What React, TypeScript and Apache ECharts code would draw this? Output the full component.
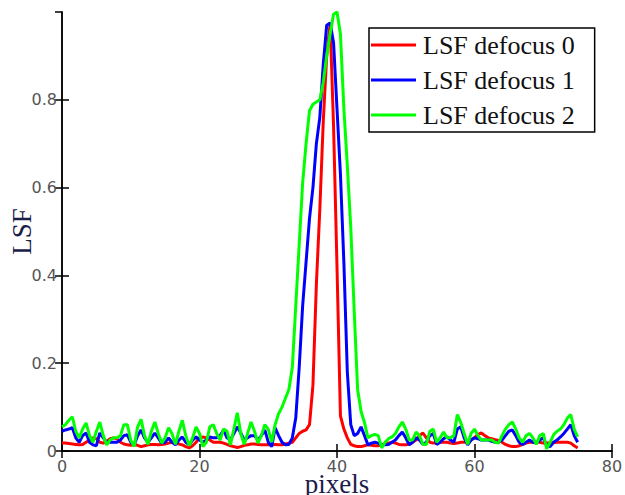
import React, { useEffect, useRef } from "react";
import * as echarts from "echarts";

const SERIES_NAMES = ["LSF defocus 0", "LSF defocus 1", "LSF defocus 2"];
const X_TICKS = [0, 20, 40, 60, 80];
const Y_TICKS = [0, 0.2, 0.4, 0.6, 0.8];
const X_STEP = 0.5;

const lsf0 = [
  0.018, 0.018, 0.017, 0.016, 0.015, 0.014, 0.015, 0.02, 0.025, 0.03,
  0.028, 0.02, 0.018, 0.022, 0.028, 0.03, 0.028, 0.02, 0.016, 0.014,
  0.013, 0.014, 0.013, 0.01, 0.012, 0.014, 0.015, 0.015, 0.014, 0.015,
  0.016, 0.018, 0.02, 0.018, 0.016, 0.014, 0.01, 0.007, 0.012, 0.02,
  0.03, 0.032, 0.03, 0.025, 0.02, 0.02, 0.02, 0.018, 0.015, 0.012,
  0.01, 0.008, 0.01, 0.013, 0.014, 0.016, 0.016, 0.015, 0.014, 0.014,
  0.014, 0.015, 0.015, 0.014, 0.014, 0.016, 0.018, 0.02, 0.03, 0.04,
  0.045, 0.048, 0.06, 0.15, 0.38, 0.55, 0.75, 0.9, 0.975, 0.74,
  0.42, 0.08, 0.05, 0.03, 0.015, 0.012, 0.01, 0.01, 0.012, 0.014,
  0.013, 0.012, 0.012, 0.014, 0.017, 0.018, 0.02, 0.018, 0.015, 0.014,
  0.014, 0.016, 0.02, 0.025, 0.035, 0.041, 0.03, 0.02, 0.018, 0.018,
  0.02, 0.02, 0.02, 0.018, 0.017, 0.018, 0.02, 0.02, 0.022, 0.025,
  0.03, 0.038, 0.041, 0.035, 0.03, 0.028, 0.026, 0.024, 0.02, 0.015,
  0.012, 0.01, 0.01, 0.012, 0.015, 0.018, 0.02, 0.02, 0.02, 0.02,
  0.018, 0.018, 0.018, 0.019, 0.02, 0.02, 0.02, 0.02, 0.018, 0.012,
  0.007,
];

const lsf1 = [
  0.045, 0.048, 0.05, 0.053, 0.03, 0.02, 0.035, 0.041, 0.02, 0.014,
  0.012, 0.041, 0.03, 0.02, 0.02, 0.02, 0.02, 0.025, 0.035, 0.037,
  0.02, 0.014, 0.035, 0.048, 0.03, 0.02, 0.03, 0.041, 0.03, 0.018,
  0.02, 0.03, 0.02, 0.014, 0.025, 0.032, 0.02, 0.014, 0.025, 0.032,
  0.025, 0.02, 0.025, 0.032, 0.03, 0.03, 0.035, 0.048, 0.03, 0.025,
  0.04, 0.055, 0.041, 0.025, 0.03, 0.035, 0.035, 0.025, 0.035, 0.048,
  0.02, 0.01, 0.053, 0.035, 0.02, 0.014, 0.015, 0.03, 0.075, 0.19,
  0.33, 0.43, 0.53, 0.6, 0.7, 0.76, 0.88, 0.97, 0.975, 0.93,
  0.78, 0.63, 0.43, 0.18, 0.06, 0.035, 0.04, 0.055, 0.035, 0.014,
  0.018, 0.02, 0.018, 0.014, 0.014, 0.015, 0.02, 0.025, 0.035, 0.043,
  0.03, 0.014, 0.02, 0.03, 0.025, 0.015, 0.02, 0.035, 0.04, 0.015,
  0.02, 0.028, 0.032, 0.025, 0.02, 0.05, 0.055, 0.03, 0.014, 0.025,
  0.03, 0.028, 0.025, 0.025, 0.025, 0.022, 0.02, 0.02, 0.025, 0.035,
  0.045, 0.048, 0.035, 0.02, 0.015, 0.02, 0.025, 0.02, 0.018, 0.025,
  0.03, 0.012, 0.01, 0.02, 0.025, 0.032, 0.04, 0.05, 0.06, 0.035,
  0.02,
];

const lsf2 = [
  0.055, 0.06, 0.07, 0.078, 0.045, 0.03, 0.05, 0.064, 0.035, 0.02,
  0.045, 0.066, 0.035, 0.014, 0.025, 0.03, 0.03, 0.035, 0.06, 0.06,
  0.025, 0.01, 0.055, 0.072, 0.035, 0.015, 0.045, 0.066, 0.04, 0.018,
  0.03, 0.053, 0.04, 0.015, 0.045, 0.07, 0.035, 0.012, 0.03, 0.055,
  0.04, 0.01, 0.02, 0.055, 0.06, 0.04, 0.025, 0.05, 0.045, 0.014,
  0.05, 0.087, 0.04, 0.015, 0.04, 0.066, 0.045, 0.018, 0.035, 0.06,
  0.05, 0.02, 0.06, 0.085, 0.1, 0.12, 0.14, 0.19, 0.33, 0.47,
  0.61, 0.7, 0.775, 0.79, 0.795, 0.8, 0.84, 0.9, 0.95, 0.995,
  1.0, 0.95, 0.78, 0.65, 0.51, 0.32, 0.14, 0.09, 0.065, 0.03,
  0.035, 0.038, 0.035, 0.007, 0.02, 0.028, 0.032, 0.04, 0.055, 0.066,
  0.05, 0.025, 0.025, 0.043, 0.035, 0.015, 0.015, 0.045, 0.05, 0.02,
  0.03, 0.043, 0.03, 0.03, 0.035, 0.083, 0.065, 0.04, 0.015, 0.04,
  0.05, 0.035, 0.025, 0.025, 0.025, 0.025, 0.02, 0.018, 0.035, 0.05,
  0.06, 0.066, 0.05, 0.03, 0.02, 0.035, 0.04, 0.03, 0.015, 0.035,
  0.04, 0.005, 0.02, 0.037, 0.045, 0.05, 0.06, 0.075, 0.083, 0.05,
  0.032,
];

const COLORS = ["#ff0000", "#0000ff", "#00ff00"];

export default function App() {
  const ref = useRef<HTMLDivElement>(null);
  useEffect(() => {
    if (!ref.current) return;
    document.body.style.margin = "0";
    const chart = echarts.init(ref.current, null, { renderer: "svg" });
    const all = [lsf0, lsf1, lsf2];
    const series = all.map((vals, si) => ({
      name: SERIES_NAMES[si],
      type: "line",
      data: vals.map((v, i) => [i * X_STEP, v]),
      showSymbol: false,
      symbol: "none",
      lineStyle: { color: COLORS[si], width: 3 },
      itemStyle: { color: COLORS[si] },
      z: 2 + si,
    }));
    const tickLabel = {
      color: "#555",
      fontFamily: "DejaVu Sans",
      fontSize: 16,
    };
    const nameStyle = {
      fontFamily: "Liberation Serif",
      fontSize: 27,
      color: "#1c1c4a",
    };
    chart.setOption({
      animation: false,
      backgroundColor: "#fff",
      grid: {
        left: 62,
        right: 13,
        top: 12,
        bottom: 44,
        containLabel: false,
        outerBoundsMode: "none",
      },
      legend: {
        data: SERIES_NAMES,
        orient: "vertical",
        left: 369,
        top: 28,
        padding: [4, 20, 4, 2],
        itemGap: 9,
        itemWidth: 45,
        itemHeight: 3,
        icon: "rect",
        backgroundColor: "#fff",
        borderColor: "#000",
        borderWidth: 1.5,
        textStyle: {
          fontFamily: "Liberation Serif",
          fontSize: 26,
          color: "#111",
          padding: [0, 0, 0, 2],
        },
      },
      xAxis: [
        {
          type: "value",
          min: X_TICKS[0],
          max: X_TICKS[X_TICKS.length - 1],
          interval: 20,
          name: "pixels",
          nameLocation: "middle",
          nameGap: 19,
          nameMoveOverlap: false,
          nameTextStyle: nameStyle,
          axisLine: { lineStyle: { color: "#000", width: 1.5 } },
          axisTick: { inside: true, length: 7, lineStyle: { color: "#000", width: 1.5 } },
          axisLabel: { ...tickLabel, margin: 7 },
          splitLine: { show: false },
        },
        {
          type: "value",
          position: "top",
          min: X_TICKS[0],
          max: X_TICKS[X_TICKS.length - 1],
          interval: 20,
          axisLine: { show: true, lineStyle: { color: "#000", width: 1.5 } },
          axisTick: { inside: true, length: 7, lineStyle: { color: "#000", width: 1.5 } },
          axisLabel: { show: false },
          splitLine: { show: false },
        },
      ],
      yAxis: [
        {
          type: "value",
          min: Y_TICKS[0],
          max: 1,
          interval: 0.2,
          name: "LSF",
          nameLocation: "middle",
          nameGap: 27,
          nameMoveOverlap: false,
          nameTextStyle: nameStyle,
          axisLine: { show: true, lineStyle: { color: "#000", width: 1.5 } },
          axisTick: { show: true, inside: true, length: 7, lineStyle: { color: "#000", width: 1.5 } },
          axisLabel: { ...tickLabel, margin: 5, showMaxLabel: false },
          splitLine: { show: false },
        },
        {
          type: "value",
          position: "right",
          min: Y_TICKS[0],
          max: 1,
          interval: 0.2,
          axisLine: { show: true, lineStyle: { color: "#000", width: 1.5 } },
          axisTick: { show: true, inside: true, length: 7, lineStyle: { color: "#000", width: 1.5 } },
          axisLabel: { show: false },
          splitLine: { show: false },
        },
      ],
      series,
    });
    return () => chart.dispose();
  }, []);
  return <div ref={ref} style={{ width: 625, height: 495 }} />;
}
